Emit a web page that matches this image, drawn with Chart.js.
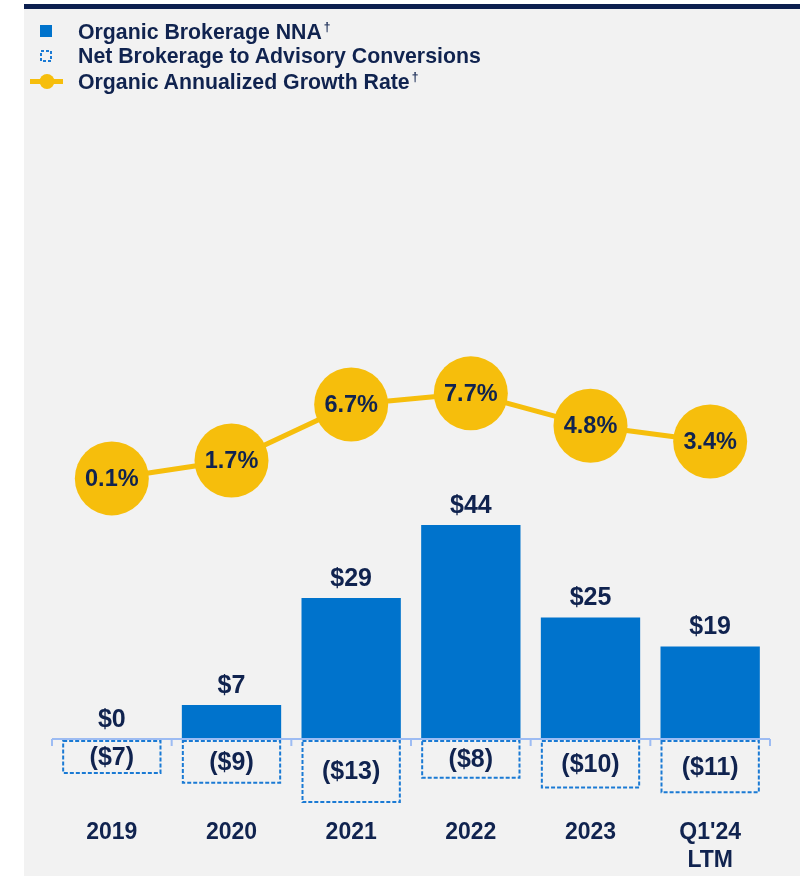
<!DOCTYPE html>
<html>
<head>
<meta charset="utf-8">
<script src="https://cdn.jsdelivr.net/npm/chart.js@4/dist/chart.umd.min.js"></script>
<style>
  html, body { margin: 0; padding: 0; background: #ffffff; }
  #wrap { position: relative; width: 807px; height: 876px; overflow: hidden; font-family: "Liberation Sans", Arial, sans-serif; }
  #panel { position: absolute; left: 24px; top: 9px; width: 776px; height: 867px; background: #f2f2f2; }
  #topbar { position: absolute; left: 24px; top: 4px; width: 776px; height: 5px; background: #0c1f4f; }
  #chart { position: absolute; left: 0; top: 0; }
  .leg { position: absolute; left: 78px; font-weight: bold; font-size: 21.3px; color: #10234f; white-space: nowrap; line-height: 24px; height: 24px; }
  .dag { font-size: 12px; position: relative; top: -8px; line-height: 0; vertical-align: baseline; margin-left: 2px; }
  .icon { position: absolute; }
</style>
</head>
<body>
<div id="wrap">
  <div id="panel"></div>
  <div id="topbar"></div>
  <canvas id="chart" width="807" height="876"></canvas>
  <svg class="icon" style="left:28px;top:18px" width="40" height="74">
    <rect x="12" y="7" width="12" height="12" fill="#0073cc"/>
    <rect x="13" y="33" width="10" height="10" fill="none" stroke="#1a7ad4" stroke-width="2" stroke-dasharray="3,2"/>
    <line x1="2" y1="63.5" x2="35" y2="63.5" stroke="#f6be0c" stroke-width="5"/>
    <circle cx="19" cy="63.5" r="7.5" fill="#f6be0c"/>
  </svg>
  <div class="leg" style="top:20px">Organic Brokerage NNA<span class="dag">†</span></div>
  <div class="leg" style="top:44px">Net Brokerage to Advisory Conversions</div>
  <div class="leg" style="top:70px">Organic Annualized Growth Rate<span class="dag">†</span></div>
</div>
<script>
const categories = ["2019", "2020", "2021", "2022", "2023", ["Q1'24", "LTM"]];
const organicBrokerageNNA = [0, 7, 29, 44, 25, 19];
const netConversions = [-7, -9, -13, -8, -10, -11];
const growthRate = [0.1, 1.7, 6.7, 7.7, 4.8, 3.4];

const NAVY = '#10234f';
const BLUE = '#0073cc';
const DASH_BLUE = '#1a7ad4';
const YELLOW = '#f6be0c';
const AXIS_BLUE = '#9dbcf3';

const baselinePlugin = {
  id: 'baseline',
  afterDatasetsDraw(chart) {
    const ctx = chart.ctx;
    const x = chart.scales.x, y = chart.scales.y;
    const y0 = y.getPixelForValue(0);
    const meta1 = chart.getDatasetMeta(1);
    ctx.save();
    ctx.strokeStyle = DASH_BLUE;
    ctx.lineWidth = 2;
    ctx.setLineDash([4, 2]);
    meta1.data.forEach(el => {
      const p = el.getProps(['x', 'y', 'base', 'width'], true);
      ctx.strokeRect(p.x - p.width / 2 + 1, p.base + 2, p.width - 2, p.y - p.base - 2);
    });
    ctx.restore();
    ctx.save();
    ctx.strokeStyle = AXIS_BLUE;
    ctx.lineWidth = 2;
    ctx.beginPath();
    const l = x.getPixelForValue(-0.5), r = x.getPixelForValue(categories.length - 0.5);
    ctx.moveTo(l, y0);
    ctx.lineTo(r, y0);
    for (let i = 0; i <= categories.length; i++) {
      const px = x.getPixelForValue(i - 0.5);
      ctx.moveTo(px, y0);
      ctx.lineTo(px, y0 + 7);
    }
    ctx.stroke();
    ctx.restore();
  }
};

const labelPlugin = {
  id: 'labels',
  afterDraw(chart) {
    const ctx = chart.ctx;
    ctx.save();
    ctx.fillStyle = NAVY;
    ctx.textAlign = 'center';
    ctx.textBaseline = 'middle';
    ctx.font = 'bold 25px "Liberation Sans", Arial, sans-serif';
    chart.getDatasetMeta(0).data.forEach((el, i) => {
      ctx.fillText('$' + organicBrokerageNNA[i], el.x, el.y - 19);
    });
    chart.getDatasetMeta(1).data.forEach((el, i) => {
      ctx.fillText('($' + (-netConversions[i]) + ')', el.x, (el.y + el.base) / 2 + 2);
    });
    ctx.font = 'bold 23.5px "Liberation Sans", Arial, sans-serif';
    chart.getDatasetMeta(2).data.forEach((el, i) => {
      ctx.fillText(growthRate[i].toFixed(1) + '%', el.x, el.y + 1);
    });
    ctx.restore();
  }
};

new Chart(document.getElementById('chart'), {
  data: {
    labels: categories,
    datasets: [
      { type: 'bar', label: 'Organic Brokerage NNA', data: organicBrokerageNNA, backgroundColor: BLUE, yAxisID: 'y', stack: 's', order: 2, barPercentage: 1, categoryPercentage: 0.83 },
      { type: 'bar', label: 'Net Brokerage to Advisory Conversions', data: netConversions, backgroundColor: 'rgba(0,0,0,0)', yAxisID: 'y', stack: 's', order: 2, barPercentage: 1, categoryPercentage: 0.83 },
      { type: 'line', label: 'Organic Annualized Growth Rate', data: growthRate, yAxisID: 'y2', borderColor: YELLOW, borderWidth: 5, pointRadius: 37, pointHoverRadius: 37, pointBackgroundColor: YELLOW, pointBorderWidth: 0, order: 0 }
    ]
  },
  options: {
    responsive: false,
    animation: false,
    devicePixelRatio: 1,
    layout: { padding: { top: 150, left: 52, right: 35, bottom: -5 } },
    plugins: { legend: { display: false }, tooltip: { enabled: false } },
    scales: {
      x: {
        stacked: true,
        grid: { display: false, drawTicks: false },
        border: { display: false },
        ticks: { color: NAVY, padding: 7, font: { family: '"Liberation Sans", Arial, sans-serif', size: 23, weight: 'bold', lineHeight: 1.2 } }
      },
      y: { display: false, stacked: true, min: -15, max: 121.2 },
      y2: { display: false, min: -29.67, max: 29.43 }
    }
  },
  plugins: [baselinePlugin, labelPlugin]
});
</script>
</body>
</html>
